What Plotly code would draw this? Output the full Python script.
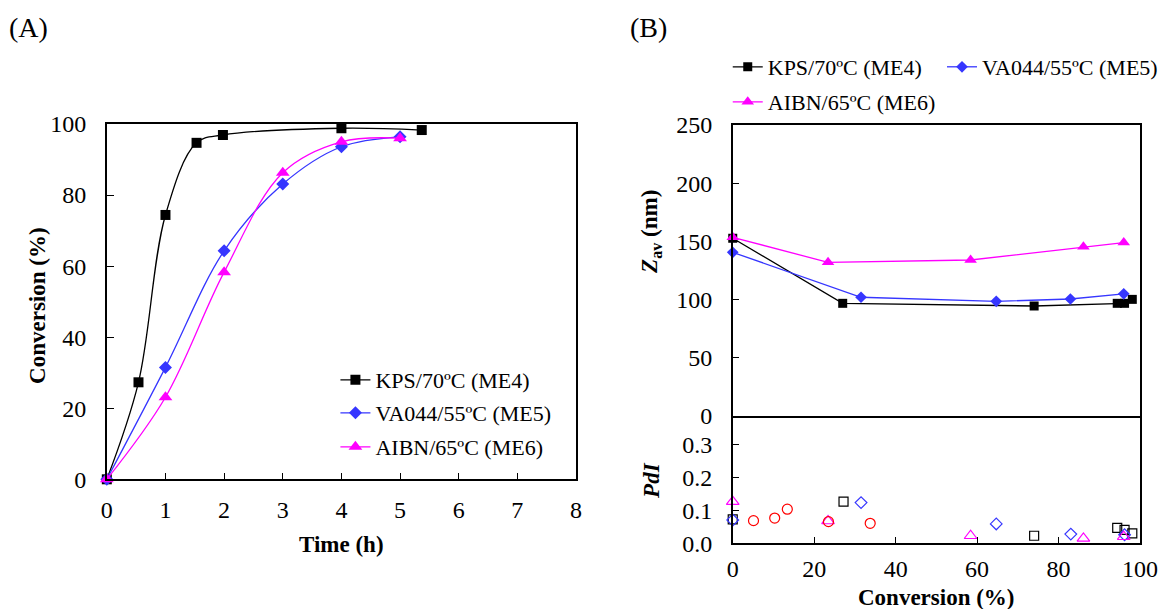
import plotly.graph_objects as go

W, H = 1163, 609
FONT = "Liberation Serif"

# ---------------- data (A) ----------------
time_kps = [0, 0.54, 1.0, 1.53, 1.98, 4.0, 5.37]
conv_kps = [0, 27.3, 74.4, 94.7, 96.9, 98.8, 98.3]
time_va = [0, 1, 2, 3, 4, 5]
conv_va = [0, 31.5, 64.3, 83.1, 93.6, 96.4]
time_aibn = [0, 1, 2, 3, 4, 5]
conv_aibn = [0, 23.1, 58.3, 86.3, 95.0, 96.0]

# ---------------- data (B) Zav ----------------
xz_kps = [0, 27.0, 74.0, 94.4, 96.2, 98.1]
z_kps = [152.7, 96.8, 94.5, 96.8, 96.8, 100.2]
xz_va = [0, 31.5, 64.7, 82.9, 96.0]
z_va = [140.6, 102, 98.5, 100.5, 105]
xz_aibn = [0, 23.4, 58.4, 86.1, 96.0]
z_aibn = [153.5, 132, 134, 145.5, 149]

# ---------------- data (B) PdI ----------------
xp_kps = [0, 27.2, 74.0, 94.4, 96.2, 98.1]
pdi_kps = [0.073, 0.127, 0.023, 0.047, 0.041, 0.030]
xp_va = [0, 31.5, 64.7, 83.0, 96.2]
pdi_va = [0.071, 0.124, 0.059, 0.028, 0.026]
xp_aibn = [0, 23.4, 58.4, 86.1, 96.0]
pdi_aibn = [0.127, 0.068, 0.023, 0.015, 0.020]
xp_other = [5.1, 10.3, 13.4, 23.5, 33.75]
pdi_other = [0.069, 0.077, 0.104, 0.066, 0.061]

names = ["KPS/70ºC (ME4)", "VA044/55ºC (ME5)", "AIBN/65ºC (ME6)"]
BLACK, BLUE, MAG, RED = "#000000", "#3636ff", "#ff00ff", "#ff0000"


def px_x(p):
    return p / W


def px_y(p):
    return 1 - p / H


fig = go.Figure()

# ----- (A) -----
specA = [
    (time_kps, conv_kps, BLACK, "square", 10, "legend"),
    (time_va, conv_va, BLUE, "diamond", 10, "legend2"),
    (time_aibn, conv_aibn, MAG, "triangle-up", 12, "legend3"),
]
for (xs, ys, c, sym, sz, lg), nm in zip(specA, names):
    fig.add_trace(go.Scatter(
        x=xs, y=ys, name=nm, mode="lines+markers",
        line=dict(color=c, width=1.3, shape="spline", smoothing=1.0),
        marker=dict(symbol=sym, size=sz, color=c),
        xaxis="x", yaxis="y", legend=lg, cliponaxis=False))

# ----- (B) Zav -----
specB = [
    (xz_kps, z_kps, BLACK, "square", 9, "legend4"),
    (xz_va, z_va, BLUE, "diamond", 9, "legend5"),
    (xz_aibn, z_aibn, MAG, "triangle-up", 11, "legend6"),
]
for (xs, ys, c, sym, sz, lg), nm in zip(specB, names):
    fig.add_trace(go.Scatter(
        x=xs, y=ys, name=nm, mode="lines+markers",
        line=dict(color=c, width=1.3),
        marker=dict(symbol=sym, size=sz, color=c),
        xaxis="x2", yaxis="y2", legend=lg, cliponaxis=False))

# ----- (B) PdI -----
specP = [
    (xp_kps, pdi_kps, BLACK, "square-open", 9),
    (xp_va, pdi_va, BLUE, "diamond-open", 9),
    (xp_aibn, pdi_aibn, MAG, "triangle-up-open", 11),
]
for (xs, ys, c, sym, sz), nm in zip(specP, names):
    fig.add_trace(go.Scatter(
        x=xs, y=ys, name=nm + " PdI", mode="markers",
        marker=dict(symbol=sym, size=sz, color=c, line=dict(color=c, width=1.2)),
        xaxis="x3", yaxis="y3", showlegend=False, cliponaxis=False))
fig.add_trace(go.Scatter(
    x=xp_other, y=pdi_other, name="PdI (other)", mode="markers",
    marker=dict(symbol="circle-open", size=10, color=RED, line=dict(color=RED, width=1.2)),
    xaxis="x3", yaxis="y3", showlegend=False, cliponaxis=False))

tickfont = dict(family=FONT, size=24, color="black")
axis_common = dict(showline=True, linecolor="black", linewidth=1.5, mirror=True,
                   ticks="inside", ticklen=7, tickwidth=1.3, tickcolor="black",
                   showgrid=False, zeroline=False, tickfont=tickfont, automargin=False)


def legend_at(xp, yp):
    return dict(x=px_x(xp), y=px_y(yp), xanchor="left", yanchor="middle",
                bgcolor="rgba(0,0,0,0)", borderwidth=0, itemwidth=30,
                font=dict(family=FONT, size=22, color="black"))


fig.update_layout(
    width=W, height=H,
    margin=dict(l=0, r=0, t=0, b=0),
    paper_bgcolor="white", plot_bgcolor="white",
    font=dict(family=FONT, color="black"),
    xaxis=dict(domain=[px_x(107), px_x(577)], range=[0, 8], dtick=1, anchor="y",
               ticklabelstandoff=8, **axis_common),
    yaxis=dict(domain=[px_y(479.3), px_y(124)], range=[0, 100], dtick=20, anchor="x",
               ticklabelstandoff=14, **axis_common),
    xaxis2=dict(domain=[px_x(734), px_x(1142)], range=[0, 100], dtick=20, anchor="y2",
                showticklabels=False, matches="x3",
                **{**axis_common, "ticks": ""}),
    yaxis2=dict(domain=[px_y(416), px_y(125)], range=[0, 250], dtick=50, anchor="x2",
                ticklabelstandoff=14, **axis_common),
    xaxis3=dict(domain=[px_x(734), px_x(1142)], range=[0, 100], dtick=20, anchor="y3",
                ticklabelstandoff=3, **{**axis_common, "mirror": False}),
    yaxis3=dict(domain=[px_y(543.3), px_y(416)], range=[0, 0.388], dtick=0.1,
                tickformat=".1f", anchor="x3", ticklabelstandoff=14, **axis_common),
    legend=legend_at(336, 380),
    legend2=legend_at(336, 413),
    legend3=legend_at(336, 447),
    legend4=legend_at(729, 67),
    legend5=legend_at(944, 67),
    legend6=legend_at(729, 102),
)

ann = [
    dict(text="(A)", x=px_x(7), y=px_y(28), xanchor="left", yanchor="middle",
         font=dict(family=FONT, size=28)),
    dict(text="(B)", x=px_x(629), y=px_y(28), xanchor="left", yanchor="middle",
         font=dict(family=FONT, size=28)),
    dict(text="<b>Conversion (%)</b>", x=px_x(37), y=px_y(305), textangle=-90,
         xanchor="center", yanchor="middle", font=dict(family=FONT, size=23)),
    dict(text="<b>Time (h)</b>", x=px_x(342), y=px_y(544), xanchor="center", yanchor="middle",
         font=dict(family=FONT, size=23)),
    dict(text="<b>Conversion (%)</b>", x=px_x(938), y=px_y(597), xanchor="center", yanchor="middle",
         font=dict(family=FONT, size=23)),
    dict(text="<b><i>Z</i><sub>av</sub> (nm)</b>", x=px_x(652), y=px_y(232), textangle=-90,
         xanchor="center", yanchor="middle", font=dict(family=FONT, size=23)),
    dict(text="<b><i>PdI</i></b>", x=px_x(652), y=px_y(480), textangle=-90,
         xanchor="center", yanchor="middle", font=dict(family=FONT, size=23)),
]
for a in ann:
    a.update(xref="paper", yref="paper", showarrow=False)
fig.update_layout(annotations=ann)

fig.write_html("out.html")
